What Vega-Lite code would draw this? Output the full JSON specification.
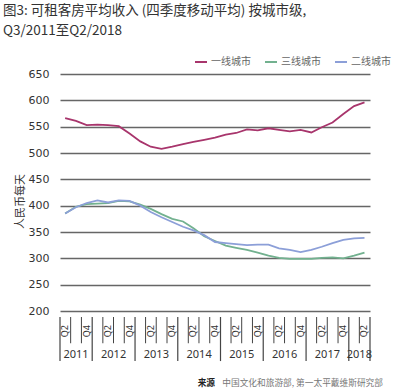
{
  "$schema": "https://vega.github.io/schema/vega-lite/v6.json",
  "padding": {"left": 3, "top": 4, "right": 8, "bottom": 2},
  "config": {"font": "Noto Sans CJK SC", "view": {"stroke": null}},
  "title": {"text": ["图3: 可租客房平均收入 (四季度移动平均) 按城市级,", "Q3/2011至Q2/2018"], "anchor": "start", "frame": "bounds", "dx": -11, "fontSize": 13.5, "fontWeight": "normal", "lineHeight": 19.6, "color": "#333333", "offset": 17.5},
  "datasets": {
    "series": [
      {"q": "2011-05-15", "city": "一线城市", "v": 566}, {"q": "2011-08-15", "city": "一线城市", "v": 561}, {"q": "2011-11-15", "city": "一线城市", "v": 553}, {"q": "2012-02-15", "city": "一线城市", "v": 554},
      {"q": "2012-05-15", "city": "一线城市", "v": 553}, {"q": "2012-08-15", "city": "一线城市", "v": 551}, {"q": "2012-11-15", "city": "一线城市", "v": 537}, {"q": "2013-02-15", "city": "一线城市", "v": 522},
      {"q": "2013-05-15", "city": "一线城市", "v": 512}, {"q": "2013-08-15", "city": "一线城市", "v": 508}, {"q": "2013-11-15", "city": "一线城市", "v": 512}, {"q": "2014-02-15", "city": "一线城市", "v": 517},
      {"q": "2014-05-15", "city": "一线城市", "v": 521}, {"q": "2014-08-15", "city": "一线城市", "v": 525}, {"q": "2014-11-15", "city": "一线城市", "v": 529}, {"q": "2015-02-15", "city": "一线城市", "v": 535},
      {"q": "2015-05-15", "city": "一线城市", "v": 538}, {"q": "2015-08-15", "city": "一线城市", "v": 545}, {"q": "2015-11-15", "city": "一线城市", "v": 543}, {"q": "2016-02-15", "city": "一线城市", "v": 547},
      {"q": "2016-05-15", "city": "一线城市", "v": 544}, {"q": "2016-08-15", "city": "一线城市", "v": 541}, {"q": "2016-11-15", "city": "一线城市", "v": 544}, {"q": "2017-02-15", "city": "一线城市", "v": 539},
      {"q": "2017-05-15", "city": "一线城市", "v": 549}, {"q": "2017-08-15", "city": "一线城市", "v": 558}, {"q": "2017-11-15", "city": "一线城市", "v": 574}, {"q": "2018-02-15", "city": "一线城市", "v": 589},
      {"q": "2018-05-15", "city": "一线城市", "v": 596},
      {"q": "2011-05-15", "city": "三线城市", "v": 385}, {"q": "2011-08-15", "city": "三线城市", "v": 398}, {"q": "2011-11-15", "city": "三线城市", "v": 403}, {"q": "2012-02-15", "city": "三线城市", "v": 404},
      {"q": "2012-05-15", "city": "三线城市", "v": 405}, {"q": "2012-08-15", "city": "三线城市", "v": 409}, {"q": "2012-11-15", "city": "三线城市", "v": 408}, {"q": "2013-02-15", "city": "三线城市", "v": 402},
      {"q": "2013-05-15", "city": "三线城市", "v": 394}, {"q": "2013-08-15", "city": "三线城市", "v": 384}, {"q": "2013-11-15", "city": "三线城市", "v": 375}, {"q": "2014-02-15", "city": "三线城市", "v": 370},
      {"q": "2014-05-15", "city": "三线城市", "v": 357}, {"q": "2014-08-15", "city": "三线城市", "v": 342}, {"q": "2014-11-15", "city": "三线城市", "v": 333}, {"q": "2015-02-15", "city": "三线城市", "v": 324},
      {"q": "2015-05-15", "city": "三线城市", "v": 320}, {"q": "2015-08-15", "city": "三线城市", "v": 316}, {"q": "2015-11-15", "city": "三线城市", "v": 311}, {"q": "2016-02-15", "city": "三线城市", "v": 305},
      {"q": "2016-05-15", "city": "三线城市", "v": 301}, {"q": "2016-08-15", "city": "三线城市", "v": 299}, {"q": "2016-11-15", "city": "三线城市", "v": 299}, {"q": "2017-02-15", "city": "三线城市", "v": 299},
      {"q": "2017-05-15", "city": "三线城市", "v": 301}, {"q": "2017-08-15", "city": "三线城市", "v": 302}, {"q": "2017-11-15", "city": "三线城市", "v": 300}, {"q": "2018-02-15", "city": "三线城市", "v": 305},
      {"q": "2018-05-15", "city": "三线城市", "v": 311},
      {"q": "2011-05-15", "city": "二线城市", "v": 385}, {"q": "2011-08-15", "city": "二线城市", "v": 397}, {"q": "2011-11-15", "city": "二线城市", "v": 405}, {"q": "2012-02-15", "city": "二线城市", "v": 410},
      {"q": "2012-05-15", "city": "二线城市", "v": 406}, {"q": "2012-08-15", "city": "二线城市", "v": 410}, {"q": "2012-11-15", "city": "二线城市", "v": 409}, {"q": "2013-02-15", "city": "二线城市", "v": 400},
      {"q": "2013-05-15", "city": "二线城市", "v": 388}, {"q": "2013-08-15", "city": "二线城市", "v": 378}, {"q": "2013-11-15", "city": "二线城市", "v": 369}, {"q": "2014-02-15", "city": "二线城市", "v": 360},
      {"q": "2014-05-15", "city": "二线城市", "v": 353}, {"q": "2014-08-15", "city": "二线城市", "v": 344}, {"q": "2014-11-15", "city": "二线城市", "v": 331}, {"q": "2015-02-15", "city": "二线城市", "v": 329},
      {"q": "2015-05-15", "city": "二线城市", "v": 327}, {"q": "2015-08-15", "city": "二线城市", "v": 325}, {"q": "2015-11-15", "city": "二线城市", "v": 326}, {"q": "2016-02-15", "city": "二线城市", "v": 326},
      {"q": "2016-05-15", "city": "二线城市", "v": 319}, {"q": "2016-08-15", "city": "二线城市", "v": 316}, {"q": "2016-11-15", "city": "二线城市", "v": 312}, {"q": "2017-02-15", "city": "二线城市", "v": 316},
      {"q": "2017-05-15", "city": "二线城市", "v": 322}, {"q": "2017-08-15", "city": "二线城市", "v": 329}, {"q": "2017-11-15", "city": "二线城市", "v": 335}, {"q": "2018-02-15", "city": "二线城市", "v": 338},
      {"q": "2018-05-15", "city": "二线城市", "v": 339}
    ],
    "quarterStarts": [
      {"d": "2011-07-01"}, {"d": "2011-10-01"}, {"d": "2012-04-01"}, {"d": "2012-07-01"}, {"d": "2012-10-01"},
      {"d": "2013-04-01"}, {"d": "2013-07-01"}, {"d": "2013-10-01"}, {"d": "2014-04-01"}, {"d": "2014-07-01"}, {"d": "2014-10-01"},
      {"d": "2015-04-01"}, {"d": "2015-07-01"}, {"d": "2015-10-01"}, {"d": "2016-04-01"}, {"d": "2016-07-01"}, {"d": "2016-10-01"},
      {"d": "2017-04-01"}, {"d": "2017-07-01"}, {"d": "2017-10-01"}, {"d": "2018-04-01"}
    ],
    "yearStarts": [
      {"d": "2011-04-01"}, {"d": "2012-01-01"}, {"d": "2013-01-01"}, {"d": "2014-01-01"}, {"d": "2015-01-01"},
      {"d": "2016-01-01"}, {"d": "2017-01-01"}, {"d": "2018-01-01"}, {"d": "2018-07-01"}
    ],
    "quarterLabels": [
      {"d": "2011-05-15", "label": "Q2"}, {"d": "2011-11-15", "label": "Q4"},
      {"d": "2012-05-15", "label": "Q2"}, {"d": "2012-11-15", "label": "Q4"},
      {"d": "2013-05-15", "label": "Q2"}, {"d": "2013-11-15", "label": "Q4"},
      {"d": "2014-05-15", "label": "Q2"}, {"d": "2014-11-15", "label": "Q4"},
      {"d": "2015-05-15", "label": "Q2"}, {"d": "2015-11-15", "label": "Q4"},
      {"d": "2016-05-15", "label": "Q2"}, {"d": "2016-11-15", "label": "Q4"},
      {"d": "2017-05-15", "label": "Q2"}, {"d": "2017-11-15", "label": "Q4"},
      {"d": "2018-05-15", "label": "Q2"}
    ],
    "yearLabels": [
      {"d": "2011-08-16", "year": "2011"}, {"d": "2012-07-02", "year": "2012"}, {"d": "2013-07-02", "year": "2013"},
      {"d": "2014-07-02", "year": "2014"}, {"d": "2015-07-02", "year": "2015"}, {"d": "2016-07-02", "year": "2016"},
      {"d": "2017-07-02", "year": "2017"}, {"d": "2018-04-01", "year": "2018"}
    ]
  },
  "spacing": 0,
  "vconcat": [
    {
      "width": 310,
      "height": 237,
      "data": {"name": "series"},
      "mark": {"type": "line", "strokeWidth": 1.8},
      "encoding": {
        "x": {"field": "q", "type": "temporal", "scale": {"type": "utc", "domain": [{"year": 2011, "month": 4, "date": 1, "utc": true}, {"year": 2018, "month": 7, "date": 1, "utc": true}]}, "axis": null},
        "y": {"field": "v", "type": "quantitative", "scale": {"domain": [200, 650], "nice": false},
          "axis": {"values": [200, 250, 300, 350, 400, 450, 500, 550, 600, 650], "title": "人民币每天", "grid": true, "gridColor": "#666666", "gridWidth": 1.4, "domain": false, "ticks": false, "tickSize": 0, "labelPadding": 11, "labelFontSize": 11, "labelFont": "DejaVu Sans", "labelColor": "#333333", "titleFontSize": 11, "titleFontWeight": "normal", "titleColor": "#333333", "titlePadding": 3, "titleY": 127}},
        "color": {"field": "city", "type": "nominal",
          "scale": {"domain": ["一线城市", "三线城市", "二线城市"], "range": ["#a8356c", "#72b18f", "#8c9fd8"]},
          "legend": {"orient": "none", "legendX": 134, "legendY": -19, "direction": "horizontal", "title": null, "symbolType": "stroke", "symbolStrokeWidth": 2, "symbolSize": 144, "labelFontSize": 10, "labelColor": "#666666", "columnPadding": 10, "labelOffset": 3}}
      }
    },
    {
      "width": 310,
      "height": 75,
      "layer": [
        {
          "data": {"name": "quarterStarts"},
          "mark": {"type": "rule", "color": "#444444", "strokeWidth": 1},
          "encoding": {
            "x": {"field": "d", "type": "temporal", "scale": {"type": "utc", "domain": [{"year": 2011, "month": 4, "date": 1, "utc": true}, {"year": 2018, "month": 7, "date": 1, "utc": true}]}, "axis": null},
            "y": {"datum": 0, "type": "quantitative", "scale": {"domain": [0, 75], "reverse": true}, "axis": null},
            "y2": {"datum": 28}
          }
        },
        {
          "data": {"name": "yearStarts"},
          "mark": {"type": "rule", "color": "#444444", "strokeWidth": 1.2},
          "encoding": {
            "x": {"field": "d", "type": "temporal"},
            "y": {"datum": 0, "type": "quantitative"},
            "y2": {"datum": 47}
          }
        },
        {
          "data": {"name": "quarterLabels"},
          "mark": {"type": "text", "angle": 270, "fontSize": 9, "font": "Noto Sans", "color": "#333333", "align": "center", "baseline": "middle"},
          "encoding": {
            "x": {"field": "d", "type": "temporal"},
            "y": {"datum": 15, "type": "quantitative"},
            "text": {"field": "label"}
          }
        },
        {
          "data": {"name": "yearLabels"},
          "mark": {"type": "text", "fontSize": 11, "font": "Noto Sans", "color": "#333333", "align": "center", "baseline": "middle"},
          "encoding": {
            "x": {"field": "d", "type": "temporal"},
            "y": {"datum": 41, "type": "quantitative"},
            "text": {"field": "year"}
          }
        },
        {
          "data": {"values": [{}]},
          "mark": {"type": "text", "text": "中国文化和旅游部, 第一太平戴维斯研究部", "fontSize": 8.7, "color": "#777777", "align": "right", "baseline": "middle", "dx": 13},
          "encoding": {
            "x": {"datum": {"year": 2018, "month": 7, "date": 1, "utc": true}, "type": "temporal"},
            "y": {"datum": 70, "type": "quantitative"}
          }
        },
        {
          "data": {"values": [{}]},
          "mark": {"type": "text", "text": "来源", "fontSize": 8.7, "fontWeight": "bold", "color": "#222222", "align": "right", "baseline": "middle", "dx": -155},
          "encoding": {
            "x": {"datum": {"year": 2018, "month": 7, "date": 1, "utc": true}, "type": "temporal"},
            "y": {"datum": 70, "type": "quantitative"}
          }
        }
      ]
    }
  ]
}
